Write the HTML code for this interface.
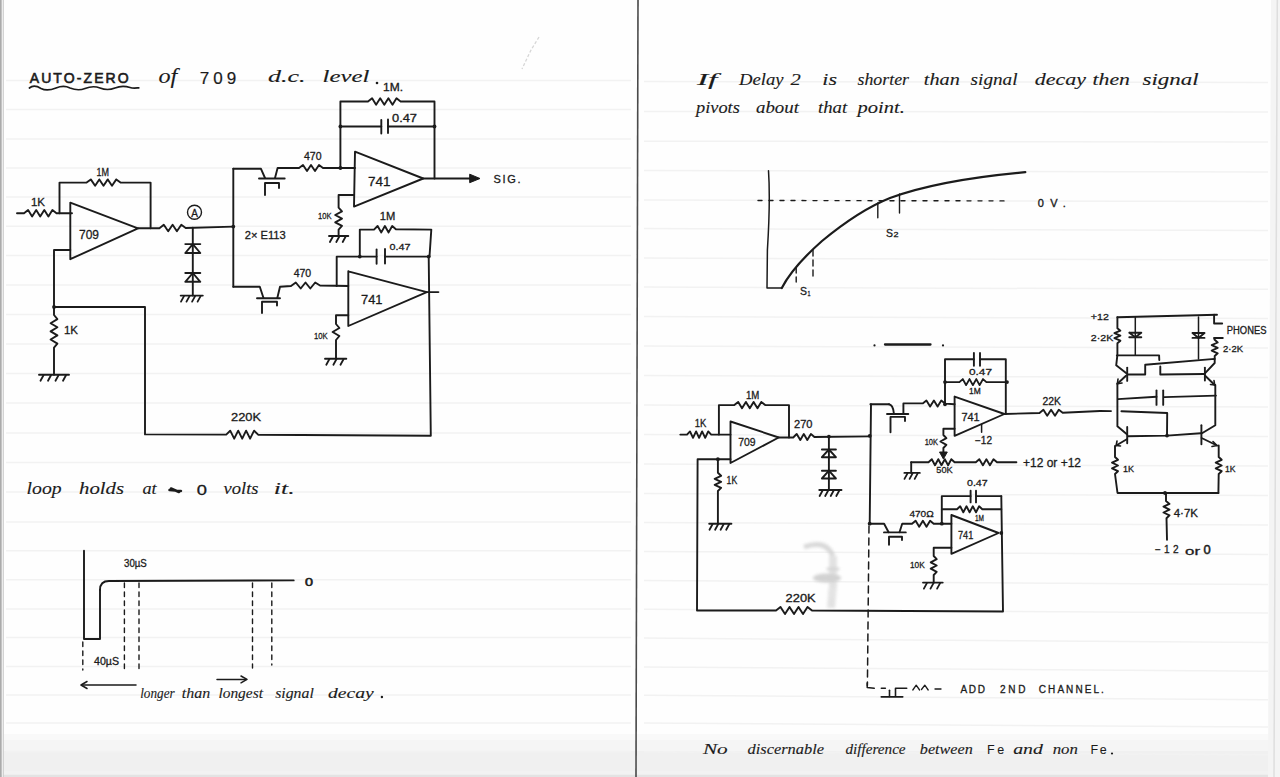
<!DOCTYPE html>
<html><head><meta charset="utf-8"><title>Notebook</title>
<style>
html,body{margin:0;padding:0;background:#fff;}
body{width:1280px;height:777px;overflow:hidden;font-family:"Liberation Sans",sans-serif;}
svg{display:block;}
</style></head><body>
<svg width="1280" height="777" viewBox="0 0 1280 777">
<defs>
<linearGradient id="bot" x1="0" y1="0" x2="0" y2="1">
<stop offset="0" stop-color="#ffffff" stop-opacity="0"/>
<stop offset="0.5" stop-color="#f1f1f1" stop-opacity="1"/>
<stop offset="1" stop-color="#e6e6e6" stop-opacity="1"/>
</linearGradient>
</defs>
<rect width="1280" height="777" fill="#fefefe"/>
<rect x="0" y="734" width="1280" height="6" fill="#f9f9f9"/>
<rect x="0" y="740" width="1280" height="11" fill="#f5f5f5"/>
<rect x="0" y="751" width="1280" height="20" fill="#f0f0f0"/>
<rect x="0" y="771" width="1280" height="3.5" fill="#f2f2f2"/>
<rect x="0" y="774.5" width="1280" height="2.5" fill="#e3e3e3"/>
<g stroke="#f2f2f2" stroke-width="1.5">
<line x1="6" y1="80.5" x2="631" y2="80.5" />
<line x1="6" y1="109.5" x2="631" y2="109.5" />
<line x1="6" y1="139" x2="631" y2="139" />
<line x1="6" y1="168" x2="631" y2="168" />
<line x1="6" y1="197" x2="631" y2="197" />
<line x1="6" y1="226.3" x2="631" y2="226.3" />
<line x1="6" y1="255.6" x2="631" y2="255.6" />
<line x1="6" y1="285" x2="631" y2="285" />
<line x1="6" y1="314.5" x2="631" y2="314.5" />
<line x1="6" y1="344" x2="631" y2="344" />
<line x1="6" y1="373.5" x2="631" y2="373.5" />
<line x1="6" y1="403" x2="631" y2="403" />
<line x1="6" y1="433" x2="631" y2="433" />
<line x1="6" y1="462.5" x2="631" y2="462.5" />
<line x1="6" y1="492" x2="631" y2="492" />
<line x1="6" y1="522" x2="631" y2="522" />
<line x1="6" y1="550.8" x2="631" y2="550.8" />
<line x1="6" y1="579.8" x2="631" y2="579.8" />
<line x1="6" y1="609" x2="631" y2="609" />
<line x1="6" y1="637.5" x2="631" y2="637.5" />
<line x1="6" y1="666.4" x2="631" y2="666.4" />
<line x1="6" y1="695" x2="631" y2="695" />
<line x1="6" y1="723" x2="631" y2="723" />
<line x1="6" y1="751.4" x2="631" y2="751.4" />
<line x1="644" y1="81.5" x2="1268" y2="82.5" />
<line x1="644" y1="111.5" x2="1268" y2="112" />
<line x1="644" y1="141.2" x2="1268" y2="142" />
<line x1="644" y1="170.5" x2="1268" y2="172" />
<line x1="644" y1="200" x2="1268" y2="201.6" />
<line x1="644" y1="228.5" x2="1268" y2="230.5" />
<line x1="644" y1="258" x2="1268" y2="260" />
<line x1="644" y1="287" x2="1268" y2="289.3" />
<line x1="644" y1="316.5" x2="1268" y2="318.5" />
<line x1="644" y1="346" x2="1268" y2="348" />
<line x1="644" y1="375.5" x2="1268" y2="377.5" />
<line x1="644" y1="405" x2="1268" y2="407" />
<line x1="644" y1="434.5" x2="1268" y2="436.5" />
<line x1="644" y1="464" x2="1268" y2="466" />
<line x1="644" y1="493.5" x2="1268" y2="495.5" />
<line x1="644" y1="522.5" x2="1268" y2="525" />
<line x1="644" y1="551.4" x2="1268" y2="554.5" />
<line x1="644" y1="580.4" x2="1268" y2="584.6" />
<line x1="644" y1="609.3" x2="1268" y2="613" />
<line x1="644" y1="638.1" x2="1268" y2="642.4" />
<line x1="644" y1="667" x2="1268" y2="671.2" />
<line x1="644" y1="695.2" x2="1268" y2="699.7" />
<line x1="644" y1="723.1" x2="1268" y2="727" />
<line x1="644" y1="751.7" x2="1268" y2="754.7" />
</g>
<rect x="0" y="0" width="1.8" height="777" fill="#ababab"/>
<rect x="1.8" y="0" width="1.2" height="777" fill="#ececec"/>
<rect x="3" y="0" width="0.9" height="777" fill="#cfcfcf"/>
<line x1="638" y1="0" x2="636" y2="777" stroke="#4a4a4a" stroke-width="1.6"/>
<polygon points="1271,0 1280,0 1280,777 1268,777" fill="#f4f4f4"/>
<line x1="1277.3" y1="0" x2="1274" y2="777" stroke="#dedede" stroke-width="1.5"/>
<filter id="blur3" x="-50%" y="-50%" width="200%" height="200%"><feGaussianBlur stdDeviation="1.6"/></filter>
<g filter="url(#blur3)" opacity="0.85">
<path d="M804,547 Q826,539 833,556" fill="none" stroke="#d2d2d2" stroke-width="5"/>
<path d="M833,556 L833,585 L831,608" fill="none" stroke="#dedede" stroke-width="8"/>
<ellipse cx="827" cy="578" rx="14" ry="4.5" fill="#cbcbcb"/>
<ellipse cx="833" cy="569" rx="7" ry="2" fill="#d0d0d0"/>
<ellipse cx="832" cy="593" rx="4" ry="6" fill="#e0e0e0"/>
</g>
<g>
<path d="M539,37 L531,50 L522,69" fill="none" stroke="#d6d6d6" stroke-width="1.3" stroke-dasharray="3 2"/>
<text x="29.7" y="82.5" font-family="Liberation Sans" font-size="14" font-weight="normal" font-style="normal" fill="#1b1b1b" text-anchor="start" textLength="99" lengthAdjust="spacing" stroke="#1b1b1b" stroke-width="0.6">AUTO-ZERO</text>
<path d="M29.4,88 C33,85 37,86 41,88.5 C46,91 51,90 56,88 C61,86 66,86 70,88 C75,90 80,90.5 85,88.5 C90,86.5 95,86 100,88 C105,90 110,90 115,88 C120,86 125,86 130,87.5 C133,88.5 136,88 138.8,87.8" fill="none" stroke="#1b1b1b" stroke-width="1.7" stroke-linejoin="round" stroke-linecap="round" />
<text x="158.4" y="83.4" font-family="Liberation Serif" font-size="21" font-style="italic" fill="#1b1b1b" stroke="#1b1b1b" stroke-width="0.12" textLength="18.8" lengthAdjust="spacingAndGlyphs">of</text>
<text x="199.7" y="83.5" font-family="Liberation Sans" font-size="17" font-weight="normal" font-style="normal" fill="#1b1b1b" text-anchor="start" textLength="36.6" lengthAdjust="spacing" stroke="#1b1b1b" stroke-width="0.2">709</text>
<text x="268" y="82" font-family="Liberation Serif" font-size="16.5" font-style="italic" fill="#1b1b1b" stroke="#1b1b1b" stroke-width="0.12" textLength="37.6" lengthAdjust="spacingAndGlyphs">d.c.</text>
<text x="322.5" y="82" font-family="Liberation Serif" font-size="16.5" font-style="italic" fill="#1b1b1b" stroke="#1b1b1b" stroke-width="0.12" textLength="46.9" lengthAdjust="spacingAndGlyphs">level</text>
<circle cx="377" cy="83" r="1.3" fill="#1b1b1b"/>
<polyline points="70.3,202.7 70.3,259.2 138,228.3 70.3,202.7" fill="none" stroke="#1b1b1b" stroke-width="1.9" stroke-linejoin="round" stroke-linecap="round" />
<text x="79" y="239" font-family="Liberation Sans" font-size="13" font-weight="normal" font-style="normal" fill="#1b1b1b" text-anchor="start" textLength="20" lengthAdjust="spacingAndGlyphs"  stroke="#1b1b1b" stroke-width="0.3">709</text>
<polyline points="17,213.3 24,213.3 28.1,210.1 32.1,216.5 36.2,210.1 40.2,216.5 44.3,210.1 48.4,216.5 52.4,210.1 56.5,213.3 72,213.3" fill="none" stroke="#1b1b1b" stroke-width="1.9" stroke-linejoin="round" stroke-linecap="round" />
<text x="31" y="205.5" font-family="Liberation Sans" font-size="10.5" font-weight="normal" font-style="normal" fill="#1b1b1b" text-anchor="start" textLength="14" lengthAdjust="spacingAndGlyphs"  stroke="#1b1b1b" stroke-width="0.3">1K</text>
<polyline points="59.5,213.3 59.5,182.6 86.6,182.6 90.8,179.4 95.1,185.8 99.3,179.4 103.5,185.8 107.8,179.4 112,185.8 116.3,179.4 120.5,182.6 150.6,182.6 150.6,228.3" fill="none" stroke="#1b1b1b" stroke-width="1.9" stroke-linejoin="round" stroke-linecap="round" />
<text x="96.6" y="175.5" font-family="Liberation Sans" font-size="10.5" font-weight="normal" font-style="normal" fill="#1b1b1b" text-anchor="start" textLength="12.5" lengthAdjust="spacingAndGlyphs"  stroke="#1b1b1b" stroke-width="0.3">1M</text>
<polyline points="138,228.3 159.4,228.3 163.8,224.8 168.2,231.2 172.6,224.8 176.9,231.2 181.3,224.8 185.7,228 233.4,226.6" fill="none" stroke="#1b1b1b" stroke-width="1.9" stroke-linejoin="round" stroke-linecap="round" />
<circle cx="194.5" cy="212.2" r="7" fill="none" stroke="#1b1b1b" stroke-width="1.4"/>
<text x="194.5" y="216.5" font-family="Liberation Sans" font-size="10" font-weight="normal" font-style="normal" fill="#1b1b1b" text-anchor="middle"  stroke="#1b1b1b" stroke-width="0.3">A</text>
<line x1="192.8" y1="227.8" x2="192.8" y2="295.6" stroke="#1b1b1b" stroke-width="1.9" stroke-linecap="round" />
<line x1="185.3" y1="244.1" x2="200.3" y2="244.1" stroke="#1b1b1b" stroke-width="1.9" stroke-linecap="round" />
<polyline points="185.3,253 200.3,253 192.8,244.1 185.3,253" fill="none" stroke="#1b1b1b" stroke-width="1.9" stroke-linejoin="round" stroke-linecap="round" />
<line x1="185.3" y1="273" x2="200.3" y2="273" stroke="#1b1b1b" stroke-width="1.9" stroke-linecap="round" />
<polyline points="185.3,281.8 200.3,281.8 192.8,273 185.3,281.8" fill="none" stroke="#1b1b1b" stroke-width="1.9" stroke-linejoin="round" stroke-linecap="round" />
<line x1="180.7" y1="295.6" x2="202.8" y2="295.6" stroke="#1b1b1b" stroke-width="1.9" stroke-linecap="round" />
<line x1="184" y1="296.1" x2="181" y2="301.6" stroke="#1b1b1b" stroke-width="1.805" stroke-linecap="round" />
<line x1="189.5" y1="296.1" x2="186.5" y2="301.6" stroke="#1b1b1b" stroke-width="1.805" stroke-linecap="round" />
<line x1="195.1" y1="296.1" x2="192.1" y2="301.6" stroke="#1b1b1b" stroke-width="1.805" stroke-linecap="round" />
<line x1="200.6" y1="296.1" x2="197.6" y2="301.6" stroke="#1b1b1b" stroke-width="1.805" stroke-linecap="round" />
<polyline points="70.3,250 54,250 54,307 145,307 145,434.4 226.2,434.6 230.2,430.7 234.2,438.7 238.2,430.7 242.2,438.7 246.1,430.7 250.1,438.7 254.1,430.7 258.1,434.7 430.8,435.7 428.7,256.6" fill="none" stroke="#1b1b1b" stroke-width="1.9" stroke-linejoin="round" stroke-linecap="round" />
<circle cx="54" cy="307" r="1.9" fill="#1b1b1b"/>
<polyline points="54,307 54,315 57.4,319.1 50.6,323.2 57.4,327.3 50.6,331.4 57.4,335.4 50.6,339.5 57.4,343.6 54,347.7 54,374.8" fill="none" stroke="#1b1b1b" stroke-width="1.9" stroke-linejoin="round" stroke-linecap="round" />
<line x1="39" y1="374.8" x2="69" y2="374.8" stroke="#1b1b1b" stroke-width="1.9" stroke-linecap="round" />
<line x1="43.5" y1="375.3" x2="40.5" y2="380.8" stroke="#1b1b1b" stroke-width="1.805" stroke-linecap="round" />
<line x1="51" y1="375.3" x2="48" y2="380.8" stroke="#1b1b1b" stroke-width="1.805" stroke-linecap="round" />
<line x1="58.5" y1="375.3" x2="55.5" y2="380.8" stroke="#1b1b1b" stroke-width="1.805" stroke-linecap="round" />
<line x1="66" y1="375.3" x2="63" y2="380.8" stroke="#1b1b1b" stroke-width="1.805" stroke-linecap="round" />
<text x="64" y="334" font-family="Liberation Sans" font-size="11" font-weight="normal" font-style="normal" fill="#1b1b1b" text-anchor="start" textLength="14" lengthAdjust="spacingAndGlyphs"  stroke="#1b1b1b" stroke-width="0.3">1K</text>
<text x="231" y="421" font-family="Liberation Sans" font-size="11" font-weight="normal" font-style="normal" fill="#1b1b1b" text-anchor="start" textLength="30" lengthAdjust="spacingAndGlyphs"  stroke="#1b1b1b" stroke-width="0.3">220K</text>
<polyline points="233.3,168.8 233.3,286.8" fill="none" stroke="#1b1b1b" stroke-width="1.9" stroke-linejoin="round" stroke-linecap="round" />
<circle cx="233.3" cy="226.6" r="1.9" fill="#1b1b1b"/>
<polyline points="233.3,168.8 261,168.8 265,178" fill="none" stroke="#1b1b1b" stroke-width="1.9" stroke-linejoin="round" stroke-linecap="round" />
<line x1="259" y1="178.5" x2="284.7" y2="178.5" stroke="#1b1b1b" stroke-width="1.9" stroke-linecap="round" />
<polyline points="275,178 277.6,168 299,168 303,165 307,171 311,165 315,171 319,165 323,168 355,168" fill="none" stroke="#1b1b1b" stroke-width="1.9" stroke-linejoin="round" stroke-linecap="round" />
<polyline points="265,195 265,183 279,183 279,188" fill="none" stroke="#1b1b1b" stroke-width="1.9" stroke-linejoin="round" stroke-linecap="round" />
<polyline points="233.3,286.8 259.8,286.8 263.5,298" fill="none" stroke="#1b1b1b" stroke-width="1.9" stroke-linejoin="round" stroke-linecap="round" />
<line x1="257" y1="298.3" x2="280" y2="298.3" stroke="#1b1b1b" stroke-width="1.9" stroke-linecap="round" />
<polyline points="277.3,298 280,286.8 291,286 295.8,282.5 300.7,288.5 305.5,282.5 310.3,288.5 315.2,282.5 320,285.5 348.3,286" fill="none" stroke="#1b1b1b" stroke-width="1.9" stroke-linejoin="round" stroke-linecap="round" />
<polyline points="262,313 262,301.8 277,301.8 277,305.5" fill="none" stroke="#1b1b1b" stroke-width="1.9" stroke-linejoin="round" stroke-linecap="round" />
<text x="244.7" y="239" font-family="Liberation Sans" font-size="11" font-weight="normal" font-style="normal" fill="#1b1b1b" text-anchor="start" textLength="41" lengthAdjust="spacingAndGlyphs"  stroke="#1b1b1b" stroke-width="0.3">2× E113</text>
<text x="304" y="159.5" font-family="Liberation Sans" font-size="10" font-weight="normal" font-style="normal" fill="#1b1b1b" text-anchor="start" textLength="17.5" lengthAdjust="spacingAndGlyphs"  stroke="#1b1b1b" stroke-width="0.3">470</text>
<text x="293.7" y="277" font-family="Liberation Sans" font-size="10" font-weight="normal" font-style="normal" fill="#1b1b1b" text-anchor="start" textLength="17.5" lengthAdjust="spacingAndGlyphs"  stroke="#1b1b1b" stroke-width="0.3">470</text>
<polyline points="355,151.7 354,206.6 423.2,178.5 355,151.7" fill="none" stroke="#1b1b1b" stroke-width="1.9" stroke-linejoin="round" stroke-linecap="round" />
<text x="368" y="185.5" font-family="Liberation Sans" font-size="13" font-weight="normal" font-style="normal" fill="#1b1b1b" text-anchor="start" textLength="22.5" lengthAdjust="spacingAndGlyphs"  stroke="#1b1b1b" stroke-width="0.3">741</text>
<polyline points="340.4,168 340.4,101.5 368,101.5 372.1,98.3 376.1,104.7 380.2,98.3 384.3,104.7 388.4,98.3 392.5,104.7 396.5,98.3 400.6,101.5 434.5,101.5 434.5,178.5" fill="none" stroke="#1b1b1b" stroke-width="1.9" stroke-linejoin="round" stroke-linecap="round" />
<polyline points="340.4,126.5 381.3,126.5" fill="none" stroke="#1b1b1b" stroke-width="1.9" stroke-linejoin="round" stroke-linecap="round" />
<line x1="381.3" y1="120" x2="381.3" y2="133.5" stroke="#1b1b1b" stroke-width="1.9" stroke-linecap="round" />
<line x1="388" y1="119.5" x2="388" y2="133" stroke="#1b1b1b" stroke-width="1.9" stroke-linecap="round" />
<polyline points="388,126.5 434.5,126.5" fill="none" stroke="#1b1b1b" stroke-width="1.9" stroke-linejoin="round" stroke-linecap="round" />
<circle cx="340.4" cy="126.5" r="1.9" fill="#1b1b1b"/>
<circle cx="434.5" cy="126.5" r="1.9" fill="#1b1b1b"/>
<circle cx="340.4" cy="168" r="1.9" fill="#1b1b1b"/>
<text x="383" y="91" font-family="Liberation Sans" font-size="10" font-weight="normal" font-style="normal" fill="#1b1b1b" text-anchor="start" textLength="20" lengthAdjust="spacingAndGlyphs"  stroke="#1b1b1b" stroke-width="0.3">1M.</text>
<text x="392" y="121.5" font-family="Liberation Sans" font-size="10" font-weight="normal" font-style="normal" fill="#1b1b1b" text-anchor="start" textLength="25" lengthAdjust="spacingAndGlyphs"  stroke="#1b1b1b" stroke-width="0.3">0.47</text>
<polyline points="423.2,178.5 472,178.5" fill="none" stroke="#1b1b1b" stroke-width="1.9" stroke-linejoin="round" stroke-linecap="round" />
<path d="M469.7,174.2 L480,178.5 L469.7,182.7 Z" fill="#1b1b1b" stroke="#1b1b1b" stroke-width="1"/>
<text x="493.5" y="183" font-family="Liberation Sans" font-size="11" font-weight="normal" font-style="normal" fill="#1b1b1b" text-anchor="start" textLength="27" lengthAdjust="spacing"  stroke="#1b1b1b" stroke-width="0.3">SIG.</text>
<polyline points="354,195 338.6,195 338.6,207.7 342,211.3 335.2,215 342,218.6 335.2,222.3 342,225.9 338.6,229.6 338.6,236" fill="none" stroke="#1b1b1b" stroke-width="1.9" stroke-linejoin="round" stroke-linecap="round" />
<line x1="329" y1="236" x2="348.3" y2="236" stroke="#1b1b1b" stroke-width="1.9" stroke-linecap="round" />
<line x1="332.9" y1="236.5" x2="329.9" y2="242" stroke="#1b1b1b" stroke-width="1.805" stroke-linecap="round" />
<line x1="339.3" y1="236.5" x2="336.3" y2="242" stroke="#1b1b1b" stroke-width="1.805" stroke-linecap="round" />
<line x1="345.7" y1="236.5" x2="342.7" y2="242" stroke="#1b1b1b" stroke-width="1.805" stroke-linecap="round" />
<text x="318" y="218.5" font-family="Liberation Sans" font-size="9.5" font-weight="normal" font-style="normal" fill="#1b1b1b" text-anchor="start" textLength="13.5" lengthAdjust="spacingAndGlyphs"  stroke="#1b1b1b" stroke-width="0.3">10K</text>
<polyline points="348.3,271.3 348.3,326 426.8,292.1 348.3,271.3" fill="none" stroke="#1b1b1b" stroke-width="1.9" stroke-linejoin="round" stroke-linecap="round" />
<text x="361" y="303.5" font-family="Liberation Sans" font-size="12.5" font-weight="normal" font-style="normal" fill="#1b1b1b" text-anchor="start" textLength="21.5" lengthAdjust="spacingAndGlyphs"  stroke="#1b1b1b" stroke-width="0.3">741</text>
<polyline points="336.7,286 336.7,256.6 376.6,256.6" fill="none" stroke="#1b1b1b" stroke-width="1.9" stroke-linejoin="round" stroke-linecap="round" />
<line x1="376.6" y1="249.5" x2="376.6" y2="263.7" stroke="#1b1b1b" stroke-width="1.9" stroke-linecap="round" />
<line x1="385" y1="249" x2="385" y2="263.5" stroke="#1b1b1b" stroke-width="1.9" stroke-linecap="round" />
<polyline points="385,256.6 428.7,256.6" fill="none" stroke="#1b1b1b" stroke-width="1.9" stroke-linejoin="round" stroke-linecap="round" />
<polyline points="359.8,256.6 359.8,229.6 374,229.6 377.6,226 381.3,232.4 384.9,226 388.6,232.4 392.2,226 395.9,229.2 431.3,229.6 429.5,256.6" fill="none" stroke="#1b1b1b" stroke-width="1.9" stroke-linejoin="round" stroke-linecap="round" />
<circle cx="359.8" cy="256.6" r="1.9" fill="#1b1b1b"/>
<circle cx="428.7" cy="256.6" r="1.9" fill="#1b1b1b"/>
<text x="379.8" y="220.3" font-family="Liberation Sans" font-size="11" font-weight="normal" font-style="normal" fill="#1b1b1b" text-anchor="start" textLength="15.5" lengthAdjust="spacingAndGlyphs"  stroke="#1b1b1b" stroke-width="0.3">1M</text>
<text x="389.4" y="250.3" font-family="Liberation Sans" font-size="9.5" font-weight="normal" font-style="normal" fill="#1b1b1b" text-anchor="start" textLength="21" lengthAdjust="spacingAndGlyphs"  stroke="#1b1b1b" stroke-width="0.3">0.47</text>
<polyline points="426.8,292.1 438.4,292.1" fill="none" stroke="#1b1b1b" stroke-width="1.9" stroke-linejoin="round" stroke-linecap="round" />
<polyline points="348.3,315.3 336,315.3 336,324 339.4,328 332.6,332 339.4,336 336,340 336,358.8" fill="none" stroke="#1b1b1b" stroke-width="1.9" stroke-linejoin="round" stroke-linecap="round" />
<line x1="325" y1="358.8" x2="346.3" y2="358.8" stroke="#1b1b1b" stroke-width="1.9" stroke-linecap="round" />
<line x1="329.3" y1="359.3" x2="326.3" y2="364.8" stroke="#1b1b1b" stroke-width="1.805" stroke-linecap="round" />
<line x1="336.4" y1="359.3" x2="333.4" y2="364.8" stroke="#1b1b1b" stroke-width="1.805" stroke-linecap="round" />
<line x1="343.5" y1="359.3" x2="340.5" y2="364.8" stroke="#1b1b1b" stroke-width="1.805" stroke-linecap="round" />
<text x="314" y="338.5" font-family="Liberation Sans" font-size="9.5" font-weight="normal" font-style="normal" fill="#1b1b1b" text-anchor="start" textLength="13.7" lengthAdjust="spacingAndGlyphs"  stroke="#1b1b1b" stroke-width="0.3">10K</text>
<text x="26.6" y="494" font-family="Liberation Serif" font-size="16" font-style="italic" fill="#1b1b1b" stroke="#1b1b1b" stroke-width="0.12" textLength="35" lengthAdjust="spacingAndGlyphs">loop</text>
<text x="79" y="494" font-family="Liberation Serif" font-size="16" font-style="italic" fill="#1b1b1b" stroke="#1b1b1b" stroke-width="0.12" textLength="45" lengthAdjust="spacingAndGlyphs">holds</text>
<text x="142.5" y="494" font-family="Liberation Serif" font-size="16" font-style="italic" fill="#1b1b1b" stroke="#1b1b1b" stroke-width="0.12" textLength="14.2" lengthAdjust="spacingAndGlyphs">at</text>
<text x="223.5" y="494" font-family="Liberation Serif" font-size="16" font-style="italic" fill="#1b1b1b" stroke="#1b1b1b" stroke-width="0.12" textLength="35" lengthAdjust="spacingAndGlyphs">volts</text>
<text x="273.8" y="494" font-family="Liberation Serif" font-size="16" font-style="italic" fill="#1b1b1b" stroke="#1b1b1b" stroke-width="0.12" textLength="20.8" lengthAdjust="spacingAndGlyphs">it.</text>
<path d="M169.5,490 L181,491 M171,488.5 L179,492" fill="none" stroke="#1b1b1b" stroke-width="2.5" stroke-linejoin="round" stroke-linecap="round" />
<text x="196.8" y="494.6" font-family="Liberation Sans" font-size="14.5" font-weight="normal" font-style="normal" fill="#1b1b1b" text-anchor="start" textLength="10.2" lengthAdjust="spacingAndGlyphs" stroke="#1b1b1b" stroke-width="0.3">0</text>
<polyline points="84,550.8 84,639 100,639 100,590" fill="none" stroke="#1b1b1b" stroke-width="1.9" stroke-linejoin="round" stroke-linecap="round" />
<path d="M100,590 Q100,581 109,581 L293.7,580.4" fill="none" stroke="#1b1b1b" stroke-width="1.9" stroke-linejoin="round" stroke-linecap="round" />
<text x="305" y="586" font-family="Liberation Sans" font-size="10.5" font-weight="normal" font-style="normal" fill="#1b1b1b" text-anchor="start" textLength="8" lengthAdjust="spacingAndGlyphs" stroke="#1b1b1b" stroke-width="0.5">0</text>
<text x="124" y="566.6" font-family="Liberation Sans" font-size="10" font-weight="normal" font-style="normal" fill="#1b1b1b" text-anchor="start" textLength="22.8" lengthAdjust="spacingAndGlyphs"  stroke="#1b1b1b" stroke-width="0.3">30µS</text>
<line x1="124.4" y1="583" x2="124.4" y2="671" stroke="#1b1b1b" stroke-width="1.4" stroke-linecap="round" stroke-dasharray="4.5 4.5"/>
<line x1="139" y1="583" x2="139" y2="671" stroke="#1b1b1b" stroke-width="1.4" stroke-linecap="round" stroke-dasharray="4.5 4.5"/>
<line x1="252.5" y1="583" x2="252.5" y2="668" stroke="#1b1b1b" stroke-width="1.4" stroke-linecap="round" stroke-dasharray="4.5 4.5"/>
<line x1="271.8" y1="583" x2="271.8" y2="665" stroke="#1b1b1b" stroke-width="1.4" stroke-linecap="round" stroke-dasharray="4.5 4.5"/>
<line x1="82.8" y1="642" x2="82.8" y2="670" stroke="#1b1b1b" stroke-width="1.4" stroke-linecap="round" stroke-dasharray="4.5 4.5"/>
<text x="94" y="665" font-family="Liberation Sans" font-size="10" font-weight="normal" font-style="normal" fill="#1b1b1b" text-anchor="start" textLength="25" lengthAdjust="spacingAndGlyphs"  stroke="#1b1b1b" stroke-width="0.3">40µS</text>
<line x1="136" y1="685" x2="82" y2="685" stroke="#1b1b1b" stroke-width="1.5" stroke-linecap="round" />
<path d="M87,681.5 L81,685 L87,688.5" fill="none" stroke="#1b1b1b" stroke-width="1.5" stroke-linejoin="round" stroke-linecap="round" />
<line x1="217" y1="679.4" x2="246" y2="679.4" stroke="#1b1b1b" stroke-width="1.5" stroke-linecap="round" />
<path d="M241,676 L247,679.4 L241,682.8" fill="none" stroke="#1b1b1b" stroke-width="1.5" stroke-linejoin="round" stroke-linecap="round" />
<text x="140.2" y="697.5" font-family="Liberation Serif" font-size="14.5" font-style="italic" fill="#1b1b1b" stroke="#1b1b1b" stroke-width="0.12" textLength="34.5" lengthAdjust="spacingAndGlyphs">longer</text>
<text x="181.8" y="697.5" font-family="Liberation Serif" font-size="14.5" font-style="italic" fill="#1b1b1b" stroke="#1b1b1b" stroke-width="0.12" textLength="28.4" lengthAdjust="spacingAndGlyphs">than</text>
<text x="218.4" y="697.5" font-family="Liberation Serif" font-size="14.5" font-style="italic" fill="#1b1b1b" stroke="#1b1b1b" stroke-width="0.12" textLength="44.6" lengthAdjust="spacingAndGlyphs">longest</text>
<text x="275.2" y="697.5" font-family="Liberation Serif" font-size="14.5" font-style="italic" fill="#1b1b1b" stroke="#1b1b1b" stroke-width="0.12" textLength="38.6" lengthAdjust="spacingAndGlyphs">signal</text>
<text x="328" y="697.5" font-family="Liberation Serif" font-size="14.5" font-style="italic" fill="#1b1b1b" stroke="#1b1b1b" stroke-width="0.12" textLength="45.8" lengthAdjust="spacingAndGlyphs">decay</text>
<circle cx="381.9" cy="697" r="1.2" fill="#1b1b1b"/>
<text x="696.9" y="84.5" font-family="Liberation Serif" font-size="16.5" font-style="italic" fill="#1b1b1b" stroke="#1b1b1b" stroke-width="0.12" textLength="20.6" lengthAdjust="spacingAndGlyphs">If</text>
<text x="739" y="84.5" font-family="Liberation Serif" font-size="16.5" font-style="italic" fill="#1b1b1b" stroke="#1b1b1b" stroke-width="0.12" textLength="44.6" lengthAdjust="spacingAndGlyphs">Delay</text>
<text x="790.5" y="84.5" font-family="Liberation Serif" font-size="16.5" font-style="italic" fill="#1b1b1b" stroke="#1b1b1b" stroke-width="0.12" textLength="10.3" lengthAdjust="spacingAndGlyphs">2</text>
<text x="822.3" y="84.5" font-family="Liberation Serif" font-size="16.5" font-style="italic" fill="#1b1b1b" stroke="#1b1b1b" stroke-width="0.12" textLength="14.7" lengthAdjust="spacingAndGlyphs">is</text>
<text x="857.5" y="84.5" font-family="Liberation Serif" font-size="16.5" font-style="italic" fill="#1b1b1b" stroke="#1b1b1b" stroke-width="0.12" textLength="51.5" lengthAdjust="spacingAndGlyphs">shorter</text>
<text x="923.8" y="84.5" font-family="Liberation Serif" font-size="16.5" font-style="italic" fill="#1b1b1b" stroke="#1b1b1b" stroke-width="0.12" textLength="36" lengthAdjust="spacingAndGlyphs">than</text>
<text x="970.6" y="84.5" font-family="Liberation Serif" font-size="16.5" font-style="italic" fill="#1b1b1b" stroke="#1b1b1b" stroke-width="0.12" textLength="46.9" lengthAdjust="spacingAndGlyphs">signal</text>
<text x="1034.7" y="84.5" font-family="Liberation Serif" font-size="16.5" font-style="italic" fill="#1b1b1b" stroke="#1b1b1b" stroke-width="0.12" textLength="51.3" lengthAdjust="spacingAndGlyphs">decay</text>
<text x="1092.5" y="84.5" font-family="Liberation Serif" font-size="16.5" font-style="italic" fill="#1b1b1b" stroke="#1b1b1b" stroke-width="0.12" textLength="37.5" lengthAdjust="spacingAndGlyphs">then</text>
<text x="1142.5" y="84.5" font-family="Liberation Serif" font-size="16.5" font-style="italic" fill="#1b1b1b" stroke="#1b1b1b" stroke-width="0.12" textLength="56.2" lengthAdjust="spacingAndGlyphs">signal</text>
<text x="696" y="112.5" font-family="Liberation Serif" font-size="16.5" font-style="italic" fill="#1b1b1b" stroke="#1b1b1b" stroke-width="0.12" textLength="43.8" lengthAdjust="spacingAndGlyphs">pivots</text>
<text x="756" y="112.5" font-family="Liberation Serif" font-size="16.5" font-style="italic" fill="#1b1b1b" stroke="#1b1b1b" stroke-width="0.12" textLength="43" lengthAdjust="spacingAndGlyphs">about</text>
<text x="818" y="112.5" font-family="Liberation Serif" font-size="16.5" font-style="italic" fill="#1b1b1b" stroke="#1b1b1b" stroke-width="0.12" textLength="29.2" lengthAdjust="spacingAndGlyphs">that</text>
<text x="857.5" y="112.5" font-family="Liberation Serif" font-size="16.5" font-style="italic" fill="#1b1b1b" stroke="#1b1b1b" stroke-width="0.12" textLength="47.3" lengthAdjust="spacingAndGlyphs">point.</text>
<path d="M768.5,170.8 Q770.5,200 767.4,250 L767,288 L781.8,288" fill="none" stroke="#1b1b1b" stroke-width="1.5" stroke-linejoin="round" stroke-linecap="round" />
<path d="M781.8,288 C790,272 805,256 822,241 C845,222 865,208 890,198 C920,187 960,178 1025.3,172.2" fill="none" stroke="#1b1b1b" stroke-width="2.2" stroke-linejoin="round" stroke-linecap="round" />
<line x1="758" y1="200.5" x2="1010" y2="200.9" stroke="#1b1b1b" stroke-width="1.4" stroke-linecap="round" stroke-dasharray="4 7"/>
<text x="1037.8" y="207" font-family="Liberation Sans" font-size="11" font-weight="normal" font-style="normal" fill="#1b1b1b" text-anchor="start" textLength="28" lengthAdjust="spacing"  stroke="#1b1b1b" stroke-width="0.35">0V.</text>
<line x1="796.2" y1="268" x2="796.2" y2="286" stroke="#1b1b1b" stroke-width="1.4" stroke-linecap="round" stroke-dasharray="5 4"/>
<line x1="813" y1="250" x2="813" y2="276" stroke="#1b1b1b" stroke-width="1.4" stroke-linecap="round" stroke-dasharray="6 4"/>
<text x="800" y="295" font-family="Liberation Sans" font-size="11" font-weight="normal" font-style="normal" fill="#1b1b1b" text-anchor="start" textLength="7" lengthAdjust="spacingAndGlyphs"  stroke="#1b1b1b" stroke-width="0.3">S</text>
<text x="807.5" y="296" font-family="Liberation Sans" font-size="7" font-weight="normal" font-style="normal" fill="#1b1b1b" text-anchor="start" textLength="3" lengthAdjust="spacingAndGlyphs"  stroke="#1b1b1b" stroke-width="0.3">1</text>
<line x1="877.8" y1="203" x2="877.8" y2="217.7" stroke="#1b1b1b" stroke-width="1.4" stroke-linecap="round" />
<line x1="899.5" y1="194" x2="899.5" y2="213" stroke="#1b1b1b" stroke-width="1.4" stroke-linecap="round" />
<text x="886" y="236.6" font-family="Liberation Sans" font-size="11" font-weight="normal" font-style="normal" fill="#1b1b1b" text-anchor="start" textLength="7" lengthAdjust="spacingAndGlyphs"  stroke="#1b1b1b" stroke-width="0.3">S</text>
<text x="893.5" y="237" font-family="Liberation Sans" font-size="7" font-weight="normal" font-style="normal" fill="#1b1b1b" text-anchor="start" textLength="5" lengthAdjust="spacingAndGlyphs"  stroke="#1b1b1b" stroke-width="0.3">2</text>
<line x1="885" y1="344.5" x2="930.5" y2="344.5" stroke="#1b1b1b" stroke-width="2.3" stroke-linecap="round" />
<circle cx="874.5" cy="345.4" r="1.1" fill="#1b1b1b"/>
<circle cx="943" cy="345.4" r="1.1" fill="#1b1b1b"/>
<polyline points="680.3,434.6 687,434.6 690,431.4 693,437.8 696.1,431.4 699.1,437.8 702.1,431.4 705.2,437.8 708.2,431.4 711.2,434.6 730.5,434.6" fill="none" stroke="#1b1b1b" stroke-width="1.9" stroke-linejoin="round" stroke-linecap="round" />
<text x="694.7" y="426.5" font-family="Liberation Sans" font-size="10" font-weight="normal" font-style="normal" fill="#1b1b1b" text-anchor="start" textLength="11.6" lengthAdjust="spacingAndGlyphs"  stroke="#1b1b1b" stroke-width="0.3">1K</text>
<polyline points="718.9,434.6 718.9,405.1 734.3,405.1 738.2,401.9 742,408.3 745.9,401.9 749.8,408.3 753.6,401.9 757.5,408.3 761.3,401.9 765.2,405.1 789,405.1 789,437.5" fill="none" stroke="#1b1b1b" stroke-width="1.9" stroke-linejoin="round" stroke-linecap="round" />
<text x="746" y="398.5" font-family="Liberation Sans" font-size="10" font-weight="normal" font-style="normal" fill="#1b1b1b" text-anchor="start" textLength="13.4" lengthAdjust="spacingAndGlyphs"  stroke="#1b1b1b" stroke-width="0.3">1M</text>
<polyline points="730.5,421.5 730.5,463 778.7,437.5 730.5,421.5" fill="none" stroke="#1b1b1b" stroke-width="1.9" stroke-linejoin="round" stroke-linecap="round" />
<text x="738.2" y="445.8" font-family="Liberation Sans" font-size="11.5" font-weight="normal" font-style="normal" fill="#1b1b1b" text-anchor="start" textLength="17.4" lengthAdjust="spacingAndGlyphs"  stroke="#1b1b1b" stroke-width="0.3">709</text>
<polyline points="730.5,459.2 697.6,459.2 697,610.5 776,610.5 780.5,606.9 785,614.1 789.5,606.9 794,614.1 798.5,606.9 803,614.1 807.5,606.9 812,610.5 1003,611.5 1001.3,496.1" fill="none" stroke="#1b1b1b" stroke-width="1.9" stroke-linejoin="round" stroke-linecap="round" />
<circle cx="717.9" cy="459.2" r="1.9" fill="#1b1b1b"/>
<polyline points="717.9,459.2 717.9,472.7 721.1,475.8 714.7,478.8 721.1,481.9 714.7,484.9 721.1,487.9 717.9,491 717.9,523.8" fill="none" stroke="#1b1b1b" stroke-width="1.9" stroke-linejoin="round" stroke-linecap="round" />
<line x1="709.2" y1="523.8" x2="731.4" y2="523.8" stroke="#1b1b1b" stroke-width="1.9" stroke-linecap="round" />
<line x1="712.5" y1="524.3" x2="709.5" y2="529.8" stroke="#1b1b1b" stroke-width="1.805" stroke-linecap="round" />
<line x1="718.1" y1="524.3" x2="715.1" y2="529.8" stroke="#1b1b1b" stroke-width="1.805" stroke-linecap="round" />
<line x1="723.6" y1="524.3" x2="720.6" y2="529.8" stroke="#1b1b1b" stroke-width="1.805" stroke-linecap="round" />
<line x1="729.2" y1="524.3" x2="726.2" y2="529.8" stroke="#1b1b1b" stroke-width="1.805" stroke-linecap="round" />
<text x="726.6" y="484.4" font-family="Liberation Sans" font-size="10" font-weight="normal" font-style="normal" fill="#1b1b1b" text-anchor="start" textLength="10.6" lengthAdjust="spacingAndGlyphs"  stroke="#1b1b1b" stroke-width="0.3">1K</text>
<text x="785.6" y="602.2" font-family="Liberation Sans" font-size="10" font-weight="normal" font-style="normal" fill="#1b1b1b" text-anchor="start" textLength="30" lengthAdjust="spacingAndGlyphs"  stroke="#1b1b1b" stroke-width="0.3">220K</text>
<polyline points="778.7,437.5 793.2,437.5 796.7,434 800.3,440 803.8,434 807.3,440 810.9,434 814.4,437 870.4,436.4" fill="none" stroke="#1b1b1b" stroke-width="1.9" stroke-linejoin="round" stroke-linecap="round" />
<text x="794" y="427.5" font-family="Liberation Sans" font-size="10.5" font-weight="normal" font-style="normal" fill="#1b1b1b" text-anchor="start" textLength="18.5" lengthAdjust="spacingAndGlyphs"  stroke="#1b1b1b" stroke-width="0.3">270</text>
<line x1="828.9" y1="436.4" x2="828.9" y2="490" stroke="#1b1b1b" stroke-width="1.9" stroke-linecap="round" />
<line x1="821.9" y1="449.5" x2="835.9" y2="449.5" stroke="#1b1b1b" stroke-width="1.9" stroke-linecap="round" />
<polyline points="821.9,457.2 835.9,457.2 828.9,449.5 821.9,457.2" fill="none" stroke="#1b1b1b" stroke-width="1.9" stroke-linejoin="round" stroke-linecap="round" />
<line x1="821.9" y1="470.7" x2="835.9" y2="470.7" stroke="#1b1b1b" stroke-width="1.9" stroke-linecap="round" />
<polyline points="821.9,478.5 835.9,478.5 828.9,470.7 821.9,478.5" fill="none" stroke="#1b1b1b" stroke-width="1.9" stroke-linejoin="round" stroke-linecap="round" />
<line x1="819.3" y1="490" x2="841.5" y2="490" stroke="#1b1b1b" stroke-width="1.9" stroke-linecap="round" />
<line x1="822.6" y1="490.5" x2="819.6" y2="496" stroke="#1b1b1b" stroke-width="1.805" stroke-linecap="round" />
<line x1="828.2" y1="490.5" x2="825.2" y2="496" stroke="#1b1b1b" stroke-width="1.805" stroke-linecap="round" />
<line x1="833.7" y1="490.5" x2="830.7" y2="496" stroke="#1b1b1b" stroke-width="1.805" stroke-linecap="round" />
<line x1="839.3" y1="490.5" x2="836.3" y2="496" stroke="#1b1b1b" stroke-width="1.805" stroke-linecap="round" />
<circle cx="828.9" cy="436.6" r="1.9" fill="#1b1b1b"/>
<polyline points="871,404.3 869.7,523.7" fill="none" stroke="#1b1b1b" stroke-width="1.9" stroke-linejoin="round" stroke-linecap="round" />
<line x1="869" y1="526" x2="867.4" y2="685.6" stroke="#1b1b1b" stroke-width="1.5" stroke-linecap="round" stroke-dasharray="7 5"/>
<polyline points="867.2,683 867.2,687.5 874.2,688.3" fill="none" stroke="#1b1b1b" stroke-width="1.5" stroke-linejoin="round" stroke-linecap="round" />
<circle cx="869.7" cy="435.8" r="1.9" fill="#1b1b1b"/>
<polyline points="870.4,404.3 889,404.3" fill="none" stroke="#1b1b1b" stroke-width="1.9" stroke-linejoin="round" stroke-linecap="round" />
<path d="M889,404.3 Q893,405 893.8,413" fill="none" stroke="#1b1b1b" stroke-width="1.9" stroke-linejoin="round" stroke-linecap="round" />
<line x1="887" y1="414" x2="908.3" y2="414" stroke="#1b1b1b" stroke-width="1.9" stroke-linecap="round" />
<polyline points="903.4,413 903.4,403.4 922.7,403.4 926.4,400.6 930.1,406.6 933.9,400.6 937.6,406.6 941.3,400.6 945,403.6 954.6,404.3" fill="none" stroke="#1b1b1b" stroke-width="1.9" stroke-linejoin="round" stroke-linecap="round" />
<polyline points="890.5,432.3 890.5,416.9 905,416.9 905,421" fill="none" stroke="#1b1b1b" stroke-width="1.9" stroke-linejoin="round" stroke-linecap="round" />
<polyline points="954.6,396.6 954.6,435.8 1004.4,414 954.6,396.6" fill="none" stroke="#1b1b1b" stroke-width="1.9" stroke-linejoin="round" stroke-linecap="round" />
<text x="961.4" y="420.8" font-family="Liberation Sans" font-size="11" font-weight="normal" font-style="normal" fill="#1b1b1b" text-anchor="start" textLength="18.3" lengthAdjust="spacingAndGlyphs"  stroke="#1b1b1b" stroke-width="0.3">741</text>
<polyline points="945,404.3 945,359.3 973.9,359.3" fill="none" stroke="#1b1b1b" stroke-width="1.9" stroke-linejoin="round" stroke-linecap="round" />
<line x1="973.9" y1="353" x2="973.9" y2="365.7" stroke="#1b1b1b" stroke-width="1.9" stroke-linecap="round" />
<line x1="980" y1="353" x2="980" y2="365.7" stroke="#1b1b1b" stroke-width="1.9" stroke-linecap="round" />
<polyline points="980,359.3 1005.8,359.3 1005.8,414" fill="none" stroke="#1b1b1b" stroke-width="1.9" stroke-linejoin="round" stroke-linecap="round" />
<polyline points="945,382.1 959.4,382.1 962.8,379.1 966.1,385.1 969.5,379.1 972.9,385.1 976.3,379.1 979.6,385.1 983,379.1 986.4,382.1 1007,382.1" fill="none" stroke="#1b1b1b" stroke-width="1.9" stroke-linejoin="round" stroke-linecap="round" />
<circle cx="945" cy="382.1" r="1.9" fill="#1b1b1b"/>
<circle cx="1007" cy="382.1" r="1.9" fill="#1b1b1b"/>
<circle cx="945" cy="404.3" r="1.9" fill="#1b1b1b"/>
<text x="969" y="374.5" font-family="Liberation Sans" font-size="9.5" font-weight="normal" font-style="normal" fill="#1b1b1b" text-anchor="start" textLength="23" lengthAdjust="spacingAndGlyphs"  stroke="#1b1b1b" stroke-width="0.3">0.47</text>
<text x="969" y="394" font-family="Liberation Sans" font-size="9" font-weight="normal" font-style="normal" fill="#1b1b1b" text-anchor="start" textLength="11.7" lengthAdjust="spacingAndGlyphs"  stroke="#1b1b1b" stroke-width="0.3">1M</text>
<line x1="981.6" y1="424.6" x2="981.6" y2="432.3" stroke="#1b1b1b" stroke-width="1.5" stroke-linecap="round" />
<text x="975" y="444.2" font-family="Liberation Sans" font-size="10" font-weight="normal" font-style="normal" fill="#1b1b1b" text-anchor="start" textLength="17" lengthAdjust="spacingAndGlyphs"  stroke="#1b1b1b" stroke-width="0.3">−12</text>
<polyline points="954.6,428.8 943.4,428.8 943.4,435 946.4,438.2 940.4,441.5 946.4,444.8 943.4,448 943.4,452" fill="none" stroke="#1b1b1b" stroke-width="1.9" stroke-linejoin="round" stroke-linecap="round" />
<path d="M939.5,452 L947.3,452 L943.4,459 Z" fill="#1b1b1b" stroke="#1b1b1b" stroke-width="1"/>
<text x="924.7" y="445" font-family="Liberation Sans" font-size="9" font-weight="normal" font-style="normal" fill="#1b1b1b" text-anchor="start" textLength="13.3" lengthAdjust="spacingAndGlyphs"  stroke="#1b1b1b" stroke-width="0.3">10K</text>
<polyline points="911.2,462.2 928.5,462.2 931.8,459.2 935,465.2 938.3,459.2 941.5,465.2 944.8,459.2 948.1,465.2 951.3,459.2 954.6,462.2 975.8,462.2 979.3,459.2 982.9,465.2 986.4,459.2 989.9,465.2 993.5,459.2 997,462.2 1016.4,462.2" fill="none" stroke="#1b1b1b" stroke-width="1.9" stroke-linejoin="round" stroke-linecap="round" />
<polyline points="911.2,462.2 911.2,472.9" fill="none" stroke="#1b1b1b" stroke-width="1.9" stroke-linejoin="round" stroke-linecap="round" />
<line x1="904.4" y1="472.9" x2="919.8" y2="472.9" stroke="#1b1b1b" stroke-width="1.9" stroke-linecap="round" />
<line x1="907.5" y1="473.4" x2="904.5" y2="478.9" stroke="#1b1b1b" stroke-width="1.805" stroke-linecap="round" />
<line x1="912.6" y1="473.4" x2="909.6" y2="478.9" stroke="#1b1b1b" stroke-width="1.805" stroke-linecap="round" />
<line x1="917.7" y1="473.4" x2="914.7" y2="478.9" stroke="#1b1b1b" stroke-width="1.805" stroke-linecap="round" />
<text x="936.3" y="473" font-family="Liberation Sans" font-size="9.5" font-weight="normal" font-style="normal" fill="#1b1b1b" text-anchor="start" textLength="16.4" lengthAdjust="spacingAndGlyphs"  stroke="#1b1b1b" stroke-width="0.3">50K</text>
<text x="1023" y="467" font-family="Liberation Sans" font-size="12" font-weight="normal" font-style="normal" fill="#1b1b1b" text-anchor="start" textLength="58" lengthAdjust="spacingAndGlyphs"  stroke="#1b1b1b" stroke-width="0.3">+12 or +12</text>
<polyline points="1004.4,414 1039.5,413 1043.4,409.8 1047.2,415.8 1051.1,409.8 1055,415.8 1058.8,409.8 1062.7,412.8 1100,411 1111,411.1" fill="none" stroke="#1b1b1b" stroke-width="1.9" stroke-linejoin="round" stroke-linecap="round" />
<text x="1042.4" y="404.5" font-family="Liberation Sans" font-size="10" font-weight="normal" font-style="normal" fill="#1b1b1b" text-anchor="start" textLength="18.4" lengthAdjust="spacingAndGlyphs"  stroke="#1b1b1b" stroke-width="0.3">22K</text>
<polyline points="868.8,523.7 884.1,523.7 888.6,532.2" fill="none" stroke="#1b1b1b" stroke-width="1.9" stroke-linejoin="round" stroke-linecap="round" />
<line x1="884" y1="532.4" x2="905.8" y2="532.4" stroke="#1b1b1b" stroke-width="1.9" stroke-linecap="round" />
<polyline points="899.5,532.2 902.2,523.7 912,523.7 915.6,520.7 919.2,526.7 922.9,520.7 926.5,526.7 930.1,520.7 933.7,523.7 951.4,523.7" fill="none" stroke="#1b1b1b" stroke-width="1.9" stroke-linejoin="round" stroke-linecap="round" />
<polyline points="889,544.8 889,536.7 902,536.7 902,540" fill="none" stroke="#1b1b1b" stroke-width="1.9" stroke-linejoin="round" stroke-linecap="round" />
<circle cx="869.7" cy="523.7" r="1.9" fill="#1b1b1b"/>
<text x="909.4" y="517" font-family="Liberation Sans" font-size="9.5" font-weight="normal" font-style="normal" fill="#1b1b1b" text-anchor="start" textLength="24.3" lengthAdjust="spacingAndGlyphs"  stroke="#1b1b1b" stroke-width="0.3">470Ω</text>
<polyline points="941.8,523.7 941.8,496.1 970.6,496.1" fill="none" stroke="#1b1b1b" stroke-width="1.9" stroke-linejoin="round" stroke-linecap="round" />
<line x1="970.6" y1="490.7" x2="970.6" y2="502.4" stroke="#1b1b1b" stroke-width="1.9" stroke-linecap="round" />
<line x1="976" y1="490.7" x2="976" y2="502.4" stroke="#1b1b1b" stroke-width="1.9" stroke-linecap="round" />
<polyline points="976,496.1 1001.3,496.1" fill="none" stroke="#1b1b1b" stroke-width="1.9" stroke-linejoin="round" stroke-linecap="round" />
<polyline points="941.8,509.3 957,509.3 960.2,506.3 963.3,512.3 966.5,506.3 969.6,512.3 972.8,506.3 976,512.3 979.1,506.3 982.3,509.3 1001.3,509.3" fill="none" stroke="#1b1b1b" stroke-width="1.9" stroke-linejoin="round" stroke-linecap="round" />
<circle cx="941.8" cy="523.7" r="1.9" fill="#1b1b1b"/>
<text x="967" y="486.3" font-family="Liberation Sans" font-size="9.5" font-weight="normal" font-style="normal" fill="#1b1b1b" text-anchor="start" textLength="20.7" lengthAdjust="spacingAndGlyphs"  stroke="#1b1b1b" stroke-width="0.3">0.47</text>
<text x="975" y="520.6" font-family="Liberation Sans" font-size="8.5" font-weight="normal" font-style="normal" fill="#1b1b1b" text-anchor="start" textLength="9" lengthAdjust="spacingAndGlyphs"  stroke="#1b1b1b" stroke-width="0.3">1M</text>
<polyline points="951.4,515 951.4,553.8 998.6,533 951.4,515" fill="none" stroke="#1b1b1b" stroke-width="1.9" stroke-linejoin="round" stroke-linecap="round" />
<text x="958" y="538.6" font-family="Liberation Sans" font-size="10.5" font-weight="normal" font-style="normal" fill="#1b1b1b" text-anchor="start" textLength="15.3" lengthAdjust="spacingAndGlyphs"  stroke="#1b1b1b" stroke-width="0.3">741</text>
<circle cx="1001.3" cy="533" r="1.9" fill="#1b1b1b"/>
<polyline points="951.4,547.8 933.7,547.8 933.7,556 936.7,559.2 930.7,562.3 936.7,565.5 930.7,568.7 936.7,571.8 933.7,575 933.7,582.6" fill="none" stroke="#1b1b1b" stroke-width="1.9" stroke-linejoin="round" stroke-linecap="round" />
<line x1="923" y1="582.6" x2="942.7" y2="582.6" stroke="#1b1b1b" stroke-width="1.9" stroke-linecap="round" />
<line x1="926.9" y1="583.1" x2="923.9" y2="588.6" stroke="#1b1b1b" stroke-width="1.805" stroke-linecap="round" />
<line x1="933.5" y1="583.1" x2="930.5" y2="588.6" stroke="#1b1b1b" stroke-width="1.805" stroke-linecap="round" />
<line x1="940.1" y1="583.1" x2="937.1" y2="588.6" stroke="#1b1b1b" stroke-width="1.805" stroke-linecap="round" />
<text x="910" y="568.2" font-family="Liberation Sans" font-size="9" font-weight="normal" font-style="normal" fill="#1b1b1b" text-anchor="start" textLength="14.7" lengthAdjust="spacingAndGlyphs"  stroke="#1b1b1b" stroke-width="0.3">10K</text>
<line x1="881.3" y1="688.3" x2="885.4" y2="688.3" stroke="#1b1b1b" stroke-width="1.5" stroke-linecap="round" />
<line x1="881.3" y1="696.8" x2="902.7" y2="696.8" stroke="#1b1b1b" stroke-width="1.7" stroke-linecap="round" />
<line x1="889.5" y1="690.3" x2="889.5" y2="696.4" stroke="#1b1b1b" stroke-width="1.6" stroke-linecap="round" />
<polyline points="895.5,696 895.5,688.3 906.7,688.3" fill="none" stroke="#1b1b1b" stroke-width="1.6" stroke-linejoin="round" stroke-linecap="round" />
<path d="M912.8,690 L916.2,685.2 L919.6,690 M921.5,689.5 L924.8,685.2 L928.2,690" fill="none" stroke="#1b1b1b" stroke-width="1.3" stroke-linejoin="round" stroke-linecap="round" />
<line x1="935" y1="689" x2="941" y2="689" stroke="#1b1b1b" stroke-width="1.3" stroke-linecap="round" />
<text x="960.5" y="692.5" font-family="Liberation Sans" font-size="10" font-weight="normal" font-style="normal" fill="#1b1b1b" text-anchor="start" textLength="24.5" lengthAdjust="spacing"  stroke="#1b1b1b" stroke-width="0.3">ADD</text>
<text x="1000" y="692.5" font-family="Liberation Sans" font-size="10" font-weight="normal" font-style="normal" fill="#1b1b1b" text-anchor="start" textLength="25.5" lengthAdjust="spacing"  stroke="#1b1b1b" stroke-width="0.3">2ND</text>
<text x="1038.8" y="692.5" font-family="Liberation Sans" font-size="10" font-weight="normal" font-style="normal" fill="#1b1b1b" text-anchor="start" textLength="65" lengthAdjust="spacing"  stroke="#1b1b1b" stroke-width="0.3">CHANNEL.</text>
<text x="702.9" y="753.8" font-family="Liberation Serif" font-size="14" font-style="italic" fill="#1b1b1b" stroke="#1b1b1b" stroke-width="0.12" textLength="24.9" lengthAdjust="spacingAndGlyphs">No</text>
<text x="747.6" y="753.8" font-family="Liberation Serif" font-size="14" font-style="italic" fill="#1b1b1b" stroke="#1b1b1b" stroke-width="0.12" textLength="76.4" lengthAdjust="spacingAndGlyphs">discernable</text>
<text x="845.5" y="753.8" font-family="Liberation Serif" font-size="14" font-style="italic" fill="#1b1b1b" stroke="#1b1b1b" stroke-width="0.12" textLength="60.1" lengthAdjust="spacingAndGlyphs">difference</text>
<text x="919.8" y="753.8" font-family="Liberation Serif" font-size="14" font-style="italic" fill="#1b1b1b" stroke="#1b1b1b" stroke-width="0.12" textLength="53" lengthAdjust="spacingAndGlyphs">between</text>
<text x="987" y="754.3" font-family="Liberation Sans" font-size="12.5" font-weight="normal" font-style="normal" fill="#1b1b1b" text-anchor="start" textLength="17.2" lengthAdjust="spacing"  stroke="#1b1b1b" stroke-width="0.05">Fe</text>
<text x="1013.2" y="754" font-family="Liberation Serif" font-size="14" font-style="italic" fill="#1b1b1b" stroke="#1b1b1b" stroke-width="0.12" textLength="29.7" lengthAdjust="spacingAndGlyphs">and</text>
<text x="1052.7" y="754" font-family="Liberation Serif" font-size="14" font-style="italic" fill="#1b1b1b" stroke="#1b1b1b" stroke-width="0.12" textLength="25.2" lengthAdjust="spacingAndGlyphs">non</text>
<text x="1090.5" y="754.3" font-family="Liberation Sans" font-size="12.5" font-weight="normal" font-style="normal" fill="#1b1b1b" text-anchor="start" textLength="16.1" lengthAdjust="spacing"  stroke="#1b1b1b" stroke-width="0.05">Fe</text>
<circle cx="1112" cy="753.5" r="1.1" fill="#1b1b1b"/>
<text x="1090.8" y="320" font-family="Liberation Sans" font-size="9.5" font-weight="normal" font-style="normal" fill="#1b1b1b" text-anchor="start" textLength="18" lengthAdjust="spacingAndGlyphs"  stroke="#1b1b1b" stroke-width="0.3">+12</text>
<polyline points="1117.4,317.2 1217,314.8" fill="none" stroke="#1b1b1b" stroke-width="1.9" stroke-linejoin="round" stroke-linecap="round" />
<polyline points="1214.1,314.8 1214.1,323.5 1222.2,323.5" fill="none" stroke="#1b1b1b" stroke-width="1.9" stroke-linejoin="round" stroke-linecap="round" />
<polyline points="1222.8,338 1214,338 1214.7,339.8 1217.7,342.5 1211.7,345.2 1217.7,347.9 1211.7,350.6 1217.7,353.3 1214.7,356 1214.7,358.9" fill="none" stroke="#1b1b1b" stroke-width="1.9" stroke-linejoin="round" stroke-linecap="round" />
<text x="1226.8" y="333.5" font-family="Liberation Sans" font-size="10" font-weight="normal" font-style="normal" fill="#1b1b1b" text-anchor="start" textLength="39.7" lengthAdjust="spacingAndGlyphs"  stroke="#1b1b1b" stroke-width="0.3">PHONES</text>
<text x="1090.8" y="340.6" font-family="Liberation Sans" font-size="9.5" font-weight="normal" font-style="normal" fill="#1b1b1b" text-anchor="start" textLength="22.5" lengthAdjust="spacingAndGlyphs"  stroke="#1b1b1b" stroke-width="0.3">2·2K</text>
<text x="1223" y="351.5" font-family="Liberation Sans" font-size="9" font-weight="normal" font-style="normal" fill="#1b1b1b" text-anchor="start" textLength="20" lengthAdjust="spacingAndGlyphs"  stroke="#1b1b1b" stroke-width="0.3">2·2K</text>
<polyline points="1117.4,317.2 1117.4,328.2 1120.4,330.7 1114.4,333.2 1120.4,335.7 1114.4,338.2 1120.4,340.7 1117.4,343.2 1117.4,354.8 1116.2,365.3 1126.7,373.4" fill="none" stroke="#1b1b1b" stroke-width="1.9" stroke-linejoin="round" stroke-linecap="round" />
<line x1="1135.3" y1="317" x2="1135.3" y2="354.8" stroke="#1b1b1b" stroke-width="1.5" stroke-linecap="round" />
<polyline points="1129.3,332.8 1141.3,332.8 1135.3,337.3 1129.3,332.8" fill="none" stroke="#1b1b1b" stroke-width="1.9" stroke-linejoin="round" stroke-linecap="round" />
<line x1="1129.3" y1="337.3" x2="1141.3" y2="337.3" stroke="#1b1b1b" stroke-width="1.9" stroke-linecap="round" />
<line x1="1198.5" y1="317" x2="1198.5" y2="358.9" stroke="#1b1b1b" stroke-width="1.5" stroke-linecap="round" />
<polyline points="1192.5,333 1204.5,333 1198.5,337.9 1192.5,333" fill="none" stroke="#1b1b1b" stroke-width="1.9" stroke-linejoin="round" stroke-linecap="round" />
<line x1="1192.5" y1="337.9" x2="1204.5" y2="337.9" stroke="#1b1b1b" stroke-width="1.9" stroke-linecap="round" />
<polyline points="1116.8,355.4 1159.1,355.4 1159.3,360" fill="none" stroke="#1b1b1b" stroke-width="1.9" stroke-linejoin="round" stroke-linecap="round" />
<polyline points="1127.8,374.5 1145.2,374.5 1145.2,364.7 1214.7,358.9 1214.7,363 1204.9,373.3" fill="none" stroke="#1b1b1b" stroke-width="1.9" stroke-linejoin="round" stroke-linecap="round" />
<line x1="1127.2" y1="367.6" x2="1127.2" y2="380.9" stroke="#1b1b1b" stroke-width="1.9" stroke-linecap="round" />
<polyline points="1126,375.7 1117.4,383.8" fill="none" stroke="#1b1b1b" stroke-width="1.9" stroke-linejoin="round" stroke-linecap="round" />
<path d="M1117.4,383.8 L1118,379 M1117.4,383.8 L1122,383" fill="none" stroke="#1b1b1b" stroke-width="1.6" stroke-linejoin="round" stroke-linecap="round" />
<polyline points="1160.3,366.4 1160.3,374.5 1204.3,374" fill="none" stroke="#1b1b1b" stroke-width="1.9" stroke-linejoin="round" stroke-linecap="round" />
<line x1="1204.9" y1="367.6" x2="1204.9" y2="380.6" stroke="#1b1b1b" stroke-width="1.9" stroke-linecap="round" />
<polyline points="1204.9,375.5 1214.7,385" fill="none" stroke="#1b1b1b" stroke-width="1.9" stroke-linejoin="round" stroke-linecap="round" />
<path d="M1214.7,385 L1214,380.5 M1214.7,385 L1210.5,384.5" fill="none" stroke="#1b1b1b" stroke-width="1.6" stroke-linejoin="round" stroke-linecap="round" />
<polyline points="1117.4,383.5 1117.4,426.3 1127.2,434.5" fill="none" stroke="#1b1b1b" stroke-width="1.9" stroke-linejoin="round" stroke-linecap="round" />
<polyline points="1215.3,385 1215.3,425.2 1202,433.3" fill="none" stroke="#1b1b1b" stroke-width="1.9" stroke-linejoin="round" stroke-linecap="round" />
<polyline points="1118,399.1 1156.5,396.8" fill="none" stroke="#1b1b1b" stroke-width="1.9" stroke-linejoin="round" stroke-linecap="round" />
<line x1="1156.5" y1="390.4" x2="1156.5" y2="404.9" stroke="#1b1b1b" stroke-width="1.9" stroke-linecap="round" />
<line x1="1163.2" y1="390.4" x2="1163.2" y2="404.9" stroke="#1b1b1b" stroke-width="1.9" stroke-linecap="round" />
<polyline points="1164.3,397.1 1215.9,395.6" fill="none" stroke="#1b1b1b" stroke-width="1.9" stroke-linejoin="round" stroke-linecap="round" />
<polyline points="1121.4,411.3 1167.2,413 1167,435.6" fill="none" stroke="#1b1b1b" stroke-width="1.9" stroke-linejoin="round" stroke-linecap="round" />
<polyline points="1127.8,436.2 1167,435.6 1200.8,433.3" fill="none" stroke="#1b1b1b" stroke-width="1.9" stroke-linejoin="round" stroke-linecap="round" />
<circle cx="1167" cy="435.6" r="1.9" fill="#1b1b1b"/>
<line x1="1127.2" y1="427" x2="1127.2" y2="443.2" stroke="#1b1b1b" stroke-width="1.9" stroke-linecap="round" />
<polyline points="1127.2,439 1116.2,445.5" fill="none" stroke="#1b1b1b" stroke-width="1.9" stroke-linejoin="round" stroke-linecap="round" />
<path d="M1116.2,445.5 L1117,441 M1116.2,445.5 L1120.5,446" fill="none" stroke="#1b1b1b" stroke-width="1.6" stroke-linejoin="round" stroke-linecap="round" />
<line x1="1201.4" y1="425.2" x2="1201.4" y2="444.3" stroke="#1b1b1b" stroke-width="1.9" stroke-linecap="round" />
<polyline points="1201.6,438 1217,445.5" fill="none" stroke="#1b1b1b" stroke-width="1.9" stroke-linejoin="round" stroke-linecap="round" />
<path d="M1217,445.5 L1213,441.5 M1217,445.5 L1212,446.5" fill="none" stroke="#1b1b1b" stroke-width="1.6" stroke-linejoin="round" stroke-linecap="round" />
<polyline points="1115,446 1115,457 1118,459.8 1112,462.7 1118,465.5 1112,468.3 1118,471.2 1115,474 1117.5,493 1218.4,493" fill="none" stroke="#1b1b1b" stroke-width="1.9" stroke-linejoin="round" stroke-linecap="round" />
<polyline points="1218.7,445.5 1218.7,457 1221.7,459.8 1215.7,462.7 1221.7,465.5 1215.7,468.3 1221.7,471.2 1218.7,474 1218.4,493" fill="none" stroke="#1b1b1b" stroke-width="1.9" stroke-linejoin="round" stroke-linecap="round" />
<text x="1123" y="471.5" font-family="Liberation Sans" font-size="9" font-weight="normal" font-style="normal" fill="#1b1b1b" text-anchor="start" textLength="11" lengthAdjust="spacingAndGlyphs"  stroke="#1b1b1b" stroke-width="0.3">1K</text>
<text x="1225" y="471.5" font-family="Liberation Sans" font-size="9" font-weight="normal" font-style="normal" fill="#1b1b1b" text-anchor="start" textLength="10.5" lengthAdjust="spacingAndGlyphs"  stroke="#1b1b1b" stroke-width="0.3">1K</text>
<circle cx="1165" cy="493" r="1.9" fill="#1b1b1b"/>
<polyline points="1166,493 1166,501 1169.5,503.9 1163.5,506.7 1169.5,509.6 1163.5,512.5 1169.5,515.3 1166.5,518.2 1167,539.8" fill="none" stroke="#1b1b1b" stroke-width="1.9" stroke-linejoin="round" stroke-linecap="round" />
<text x="1173.7" y="516.5" font-family="Liberation Sans" font-size="10" font-weight="normal" font-style="normal" fill="#1b1b1b" text-anchor="start" textLength="24.3" lengthAdjust="spacingAndGlyphs"  stroke="#1b1b1b" stroke-width="0.3">4·7K</text>
<text x="1155" y="552.8" font-family="Liberation Sans" font-size="10" font-weight="normal" font-style="normal" fill="#1b1b1b" text-anchor="start" textLength="23.5" lengthAdjust="spacing"  stroke="#1b1b1b" stroke-width="0.3">−12</text>
<text x="1185" y="554.8" font-family="Liberation Sans" font-size="11" font-weight="normal" font-style="normal" fill="#1b1b1b" text-anchor="start" textLength="15" lengthAdjust="spacingAndGlyphs" stroke="#1b1b1b" stroke-width="0.3">or</text>
<text x="1203.5" y="553.8" font-family="Liberation Sans" font-size="12.5" font-weight="normal" font-style="normal" fill="#1b1b1b" text-anchor="start" textLength="7.2" lengthAdjust="spacingAndGlyphs" stroke="#1b1b1b" stroke-width="0.5">0</text>
</g>
</svg>
</body></html>
